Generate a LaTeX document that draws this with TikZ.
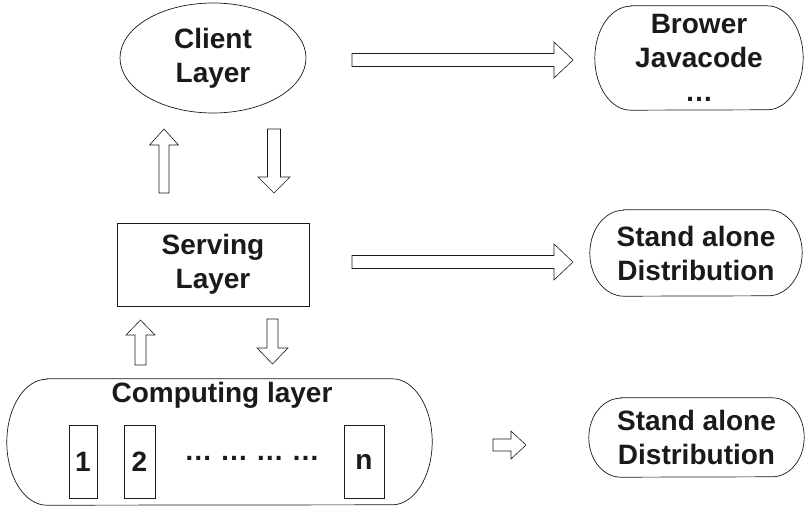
\documentclass[tikz,border=0pt]{standalone}
\usepackage{fontspec}
\setmainfont{Liberation Sans}
\usetikzlibrary{shapes.geometric}

% hollow block arrows: tail, tip, centre line, shaft half-width, head half-width, head length
\newcommand{\blkright}[6]{%
  \draw[blockarrow] (#1,#3-#4) -- (#2-#6,#3-#4) -- (#2-#6,#3-#5) -- (#2,#3)
    -- (#2-#6,#3+#5) -- (#2-#6,#3+#4) -- (#1,#3+#4) -- cycle;}
\newcommand{\blkup}[6]{% x, tail y, tip y, ...
  \draw[blockarrow] (#1-#4,#2) -- (#1-#4,#3+#6) -- (#1-#5,#3+#6) -- (#1,#3)
    -- (#1+#5,#3+#6) -- (#1+#4,#3+#6) -- (#1+#4,#2) -- cycle;}
\newcommand{\blkdown}[6]{%
  \draw[blockarrow] (#1-#4,#2) -- (#1-#4,#3-#6) -- (#1-#5,#3-#6) -- (#1,#3)
    -- (#1+#5,#3-#6) -- (#1+#4,#3-#6) -- (#1+#4,#2) -- cycle;}
% outline with half-ellipse ends around a named node
\newcommand{\capsule}[3]{% node, end x radius, end y radius
  \draw[outline] ([xshift=#2]#1.north west) -- ([xshift=-#2]#1.north east)
    arc[start angle=90, end angle=-90, x radius=#2, y radius=#3]
    -- ([xshift=#2]#1.south west)
    arc[start angle=270, end angle=90, x radius=#2, y radius=#3] -- cycle;}

\definecolor{ink}{HTML}{1A1A1A}

\begin{document}
\begin{tikzpicture}[x=1pt, y=-1pt,
  every node/.style={font=\fontsize{28}{34}\selectfont\bfseries, text=ink, align=center, inner sep=0pt},
  outline/.style={draw=ink, line width=0.7pt},
  blockarrow/.style={draw=ink, line width=0.6pt, fill=white, line join=miter},
  box/.style={outline, minimum height=73pt},
  holder/.style={minimum width=#1}]
\useasboundingbox[fill=white] (0,0) rectangle (805,508);

% layers
\node[outline, ellipse, minimum width=186pt, minimum height=110pt] (client) at (213,58) {Client\\Layer};
\node[outline, rectangle, minimum width=192pt, minimum height=83pt] (serving) at (213,264.5) {Serving\\Layer};

\node[minimum width=425pt, minimum height=126pt] (computing) at (219.5,442) {};
\capsule{computing}{40pt}{63pt}
\node[anchor=base] (comptitle) at (222,402) {Computing layer};
\node[box, minimum width=28pt] (w1) at (83,461.5) {1};
\node[box, minimum width=31pt] (w2) at (139.5,461.5) {2};
\node (wdots) at (252,458) {… … … …};
\node[box, minimum width=40pt] (wn) at (364,461.5) {n};

% distributions
\node[minimum width=208pt, minimum height=104pt] (brower) at (699,58) {Brower\\Javacode\\…};
\capsule{brower}{36pt}{52pt}
\node[minimum width=212pt, minimum height=86pt] (standA) at (696,253) {Stand alone\\Distribution};
\capsule{standA}{34pt}{43pt}
\node[minimum width=215pt, minimum height=79pt] (standB) at (696.5,437.5) {Stand alone\\Distribution};
\capsule{standB}{32pt}{39.5pt}

% block arrows
\blkup{164}{193}{129}{5}{14.5}{16}
\blkdown{274}{129}{193}{6.5}{16}{16}
\blkup{140.5}{365}{320}{5.5}{14.5}{15}
\blkdown{272.5}{319}{364}{5.5}{15.5}{16}
\blkright{352}{573}{60}{6.5}{18}{19}
\blkright{352}{573}{262}{6.5}{18}{19}
\blkright{493}{526}{445}{6}{14}{15}
\end{tikzpicture}
\end{document}
